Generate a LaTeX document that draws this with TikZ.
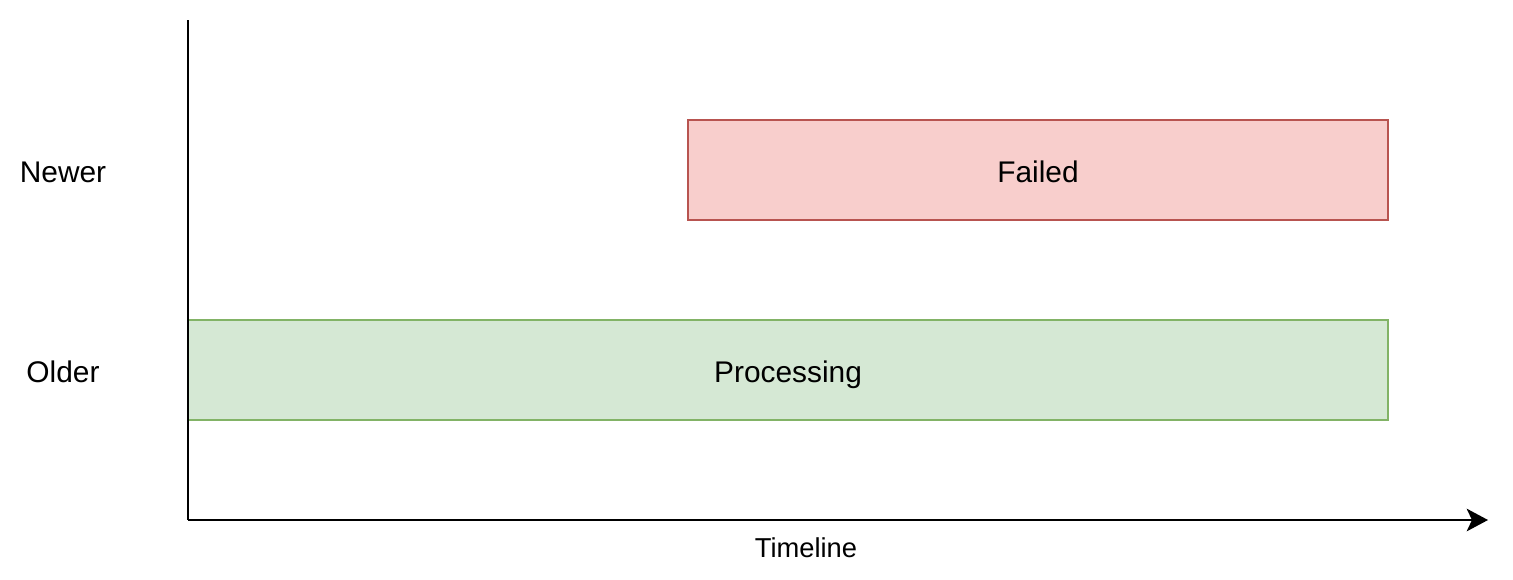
\documentclass[tikz,border=0pt]{standalone}
\usepackage{fontspec}
\setmainfont{Liberation Sans}
\usetikzlibrary{arrows.meta}
\definecolor{redfill}{HTML}{F8CECC}
\definecolor{redline}{HTML}{B85450}
\definecolor{greenfill}{HTML}{D5E8D4}
\definecolor{greenline}{HTML}{82B366}
\tikzset{
  bar/.style={draw, line width=1.5pt, minimum height=75pt, inner sep=0pt,
    font=\fontsize{22.4pt}{27pt}\selectfont, text height=18pt, text depth=0pt},
  failbar/.style={bar, fill=redfill, draw=redline, minimum width=525pt},
  procbar/.style={bar, fill=greenfill, draw=greenline, minimum width=900pt},
  rowlabel/.style={anchor=base, inner sep=0pt, font=\fontsize{22.4pt}{27pt}\selectfont},
  axislabel/.style={anchor=base, inner sep=0pt, font=\fontsize{20.5pt}{24pt}\selectfont},
  axis/.style={line width=1.5pt, -{Stealth[length=16pt, width=17pt, inset=4pt]}},
}
\begin{document}
\begin{tikzpicture}[x=0.75pt, y=-0.75pt]
  \useasboundingbox (0,0) rectangle (1513,579);
  \node[failbar] (failed) at (1038,170) {Failed};
  \node[procbar] (processing) at (788,370) {Processing};
  \node[rowlabel] (newer) at (63,182) {Newer};
  \node[rowlabel] (older) at (63,382) {Older};
  \node[axislabel] (timeline) at (806,557) {Timeline};
  \coordinate (top) at (188,20);
  \coordinate (origin) at (188,520);
  \coordinate (end) at (1488,520);
  \draw[line width=1.5pt] (top) -- (origin);
  \draw[axis] (origin) -- (end);
\end{tikzpicture}
\end{document}
